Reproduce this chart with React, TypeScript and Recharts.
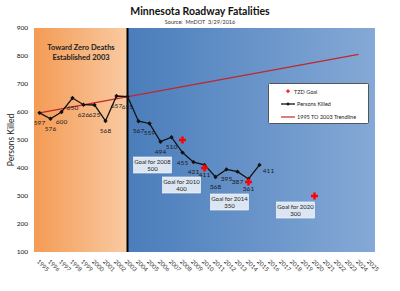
import React from "react";
import {
  ComposedChart,
  Line,
  XAxis,
  YAxis,
  ReferenceArea,
  ReferenceLine,
  LabelList,
} from "recharts";

const years = [
  1995, 1996, 1997, 1998, 1999, 2000, 2001, 2002, 2003, 2004, 2005, 2006, 2007,
  2008, 2009, 2010, 2011, 2012, 2013, 2014, 2015, 2016, 2017, 2018, 2019, 2020,
  2021, 2022, 2023, 2024, 2025,
];
const killed = [
  597, 576, 600, 650, 626, 625, 568, 657, 655, 567, 559, 494, 510, 455, 421, 411,
  368, 395, 387, 361, 411,
];
const goalYears = [2008, 2010, 2014, 2020];
const goalValues = [500, 400, 350, 300];
const trendYears = [1995, 2024];
const trendValues = [597, 806];
const yTicks = [100, 200, 300, 400, 500, 600, 700, 800, 900];

const data = years.map((year, i) => {
  const g = goalYears.indexOf(year);
  const t = trendYears.indexOf(year);
  return {
    year,
    killed: i < killed.length ? killed[i] : null,
    goal: g >= 0 ? goalValues[g] : null,
    trend: t >= 0 ? trendValues[t] : null,
  };
});

// where each goal callout sits relative to its marker
const goalBoxOffset: Record<number, [number, number]> = {
  2008: [-30, 25],
  2010: [-23, 17],
  2014: [-19, 20],
  2020: [-19, 14],
};

const FONT = "Lato, 'Open Sans', sans-serif";

const XTick = (props: any) => {
  const { x, y, payload } = props;
  return (
    <text
      x={0}
      y={0}
      transform={`translate(${x - 3},${y + 2}) rotate(45)`}
      fontSize={6}
      fill="#333"
      fontFamily={FONT}
    >
      {payload.value}
    </text>
  );
};

const GoalDot = (props: any) => {
  const { cx, cy, payload, index } = props;
  if (payload.goal == null || cy == null) return <g key={index} />;
  const [dx, dy] = goalBoxOffset[payload.year] || [-20, 18];
  const bx = cx + dx;
  const by = cy + dy;
  return (
    <g key={index}>
      <path
        d={`M${cx - 1.2},${cy - 3.5}h2.4v2.3h2.3v2.4h-2.3v2.3h-2.4v-2.3h-2.3v-2.4h2.3z`}
        fill="#ff0000"
      />
      <rect
        x={bx - 19}
        y={by - 8}
        width={38}
        height={16}
        fill="#dce6f2"
        stroke="#fff"
        strokeWidth={0.6}
      />
      <text x={bx} y={by - 1.5} textAnchor="middle" fontSize={6} fill="#222" fontFamily={FONT}>
        {`Goal for ${payload.year}`}
      </text>
      <text x={bx} y={by + 6} textAnchor="middle" fontSize={6} fill="#222" fontFamily={FONT}>
        {payload.goal}
      </text>
    </g>
  );
};

const KilledDot = (props: any) => {
  const { cx, cy, index } = props;
  if (cy == null) return <g key={index} />;
  return (
    <path
      key={index}
      d={`M${cx},${cy - 2.2}L${cx + 2.2},${cy}L${cx},${cy + 2.2}L${cx - 2.2},${cy}Z`}
      fill="#111"
    />
  );
};

const KilledLabel = (props: any) => {
  const { x, y, value, index } = props;
  if (value == null) return null;
  const last = index === killed.length - 1;
  return (
    <text
      x={x + (last ? 9 : 0)}
      y={y + (last ? 8 : 12)}
      textAnchor="middle"
      fontSize={6.5}
      fill="#1a1a1a"
      fontFamily={FONT}
    >
      {value}
    </text>
  );
};

const LegendBox = () => (
  <svg width={101} height={41} style={{ position: "absolute", left: 268, top: 83 }}>
    <rect x={0.5} y={0.5} width={100} height={40} fill="#fff" stroke="#555" strokeWidth={1} rx={1} />
    <path d="M19.4,6.3h1.2v1.2h1.2v1.2h-1.2v1.2h-1.2v-1.2h-1.2v-1.2h1.2z" fill="#ff0000" />
    <text x={26} y={10.5} fontSize={5.5} fontFamily={FONT} fill="#222">TZD Goal</text>
    <line x1={13} y1={21} x2={27} y2={21} stroke="#111" strokeWidth={1.3} />
    <path d="M20,19.3L21.7,21L20,22.7L18.3,21Z" fill="#111" />
    <text x={29} y={23} fontSize={5.5} fontFamily={FONT} fill="#222">Persons Killed</text>
    <line x1={13} y1={34} x2={27} y2={34} stroke="#c0272d" strokeWidth={1.2} />
    <text x={29} y={36} fontSize={5.5} fontFamily={FONT} fill="#222">1995 TO 2003 Trendline</text>
  </svg>
);

export default function App() {
  return (
    <div
      style={{
        position: "absolute",
        left: 0,
        top: 0,
        width: 400,
        height: 291,
        background: "#fff",
        fontFamily: FONT,
      }}
    >
      <ComposedChart
        width={400}
        height={291}
        data={data}
        margin={{ top: 28, right: 25, bottom: 0, left: 14 }}
      >
        <defs>
          <linearGradient id="orangeGrad" x1="0" y1="0" x2="1" y2="0">
            <stop offset="0%" stopColor="#f49b55" />
            <stop offset="100%" stopColor="#f9caa2" />
          </linearGradient>
          <linearGradient id="blueGrad" x1="0" y1="0" x2="1" y2="0">
            <stop offset="0%" stopColor="#4a7dbb" />
            <stop offset="100%" stopColor="#85a9d6" />
          </linearGradient>
        </defs>
        <XAxis
          dataKey="year"
          type="number"
          domain={[1994.5, 2025.5]}
          ticks={years}
          interval={0}
          axisLine={false}
          tickLine={false}
          tick={<XTick />}
          height={39}
        />
        <YAxis
          domain={[100, 900]}
          ticks={yTicks}
          width={20}
          axisLine={false}
          tickLine={false}
          tickSize={4}
          tickMargin={2}
          tick={{ fontSize: 6.5, fill: "#111", fontFamily: FONT }}
        />
        <ReferenceArea x1={1994.5} x2={2003} y1={100} y2={900} fill="url(#orangeGrad)" fillOpacity={1} />
        <ReferenceArea x1={2003} x2={2025.5} y1={100} y2={900} fill="url(#blueGrad)" fillOpacity={1} />
        <ReferenceLine x={2003} stroke="#000" strokeWidth={2} />
        <Line
          dataKey="trend"
          connectNulls
          stroke="#c0272d"
          strokeWidth={1.3}
          dot={false}
          isAnimationActive={false}
        />
        <Line
          dataKey="killed"
          stroke="#111"
          strokeWidth={1.3}
          dot={<KilledDot />}
          isAnimationActive={false}
        >
          <LabelList dataKey="killed" content={<KilledLabel />} />
        </Line>
        <Line
          dataKey="goal"
          stroke="none"
          dot={<GoalDot />}
          activeDot={false}
          isAnimationActive={false}
        />
      </ComposedChart>
      <LegendBox />
      <div
        style={{
          position: "absolute",
          left: 0,
          top: 5,
          width: 400,
          textAlign: "center",
          fontSize: 10.5,
          fontWeight: 700,
          color: "#111",
        }}
      >
        Minnesota Roadway Fatalities
      </div>
      <div
        style={{
          position: "absolute",
          left: 0,
          top: 19,
          width: 400,
          textAlign: "center",
          fontSize: 5.5,
          color: "#333",
          whiteSpace: "pre",
        }}
      >
        {"Source:  MnDOT  3/29/2016"}
      </div>
      <div
        style={{
          position: "absolute",
          left: 35,
          top: 43,
          width: 92,
          textAlign: "center",
          fontSize: 7.5,
          fontWeight: 700,
          lineHeight: "10px",
          color: "#222",
        }}
      >
        Toward Zero Deaths
        <br />
        Established 2003
      </div>
      <div
        style={{
          position: "absolute",
          left: 11,
          top: 140,
          transform: "translate(-50%, -50%) rotate(-90deg)",
          fontSize: 8.5,
          color: "#222",
          whiteSpace: "nowrap",
        }}
      >
        Persons Killed
      </div>
    </div>
  );
}
